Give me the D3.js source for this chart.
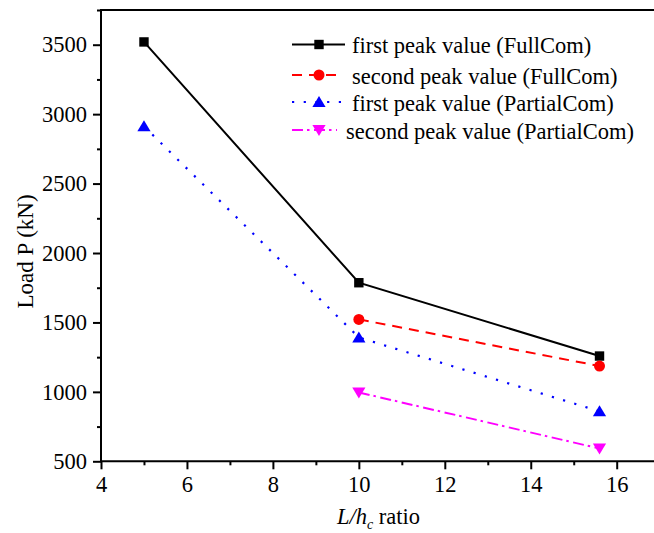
<!DOCTYPE html>
<html><head><meta charset="utf-8">
<script src="https://cdn.jsdelivr.net/npm/d3@7"></script>
<style>
html,body{margin:0;padding:0;background:#fff;}
svg{display:block;}
</style></head>
<body>
<svg id="chart" width="654" height="533" font-family="Liberation Serif"></svg>
<script>
// ---- data ----
const seriesNames = ["first peak value (FullCom)","second peak value (FullCom)","first peak value (PartialCom)","second peak value (PartialCom)"];
const firstFullX = [5, 10, 15.6];
const firstFullY = [3520, 1786, 1258];
const secondFullX = [10, 15.6];
const secondFullY = [1522, 1186];
const firstPartX = [5, 10, 15.6];
const firstPartY = [2912, 1392, 860];
const secondPartX = [10, 15.6];
const secondPartY = [996, 592];
const xMajorTicks = [4, 6, 8, 10, 12, 14, 16];
const xMinorTicks = [5, 7, 9, 11, 13, 15, 17];
const yMajorTicks = [500, 1000, 1500, 2000, 2500, 3000, 3500];
const yMinorTicks = [750, 1250, 1750, 2250, 2750, 3250, 3750];

const FONT = "Liberation Serif";
const svg = d3.select("#chart");
const x = d3.scaleLinear().domain([4, 16]).range([101, 616.7]);
const y = d3.scaleLinear().domain([500, 3750]).range([461.3, 10]);

const styles = [
  {color:"#000000", dash:null, width:2, marker:"square"},
  {color:"#ff0000", dash:"10,7", width:2, marker:"circle"},
  {color:"#0000ff", dash:"2.2,9.5", width:2.2, marker:"triangle"},
  {color:"#ff00ff", dash:"11,4,2.5,4.5", width:2, marker:"triangleDown"}
];
const series = [
  firstFullX.map((v,i)=>[v, firstFullY[i]]),
  secondFullX.map((v,i)=>[v, secondFullY[i]]),
  firstPartX.map((v,i)=>[v, firstPartY[i]]),
  secondPartX.map((v,i)=>[v, secondPartY[i]])
];

function marker(g, type, cx, cy, color){
  if(type==="square"){
    g.append("rect").attr("x",cx-4.7).attr("y",cy-4.7).attr("width",9.4).attr("height",9.4).attr("fill",color);
  } else if(type==="circle"){
    g.append("circle").attr("cx",cx).attr("cy",cy).attr("r",5.5).attr("fill",color);
  } else if(type==="triangle"){
    g.append("path").attr("d",`M${cx},${cy-6} L${cx+6.6},${cy+5} L${cx-6.6},${cy+5} Z`).attr("fill",color);
  } else {
    g.append("path").attr("d",`M${cx},${cy+6} L${cx+6.6},${cy-5} L${cx-6.6},${cy-5} Z`).attr("fill",color);
  }
}

// ---- axes ----
const ax = svg.append("g");
const xAxisMajor = d3.axisBottom(x).tickValues(xMajorTicks).tickSize(8).tickPadding(7).tickFormat(d3.format("d"));
const xAxisMinor = d3.axisBottom(x).tickValues(xMinorTicks).tickSize(4).tickFormat("");
const yAxisMajor = d3.axisLeft(y).tickValues(yMajorTicks).tickSize(8).tickPadding(6).tickFormat(d3.format("d"));
const yAxisMinor = d3.axisLeft(y).tickValues(yMinorTicks).tickSize(4).tickFormat("");

ax.append("g").attr("transform",`translate(0,${y(500)})`).call(xAxisMajor);
ax.append("g").attr("transform",`translate(0,${y(500)})`).call(xAxisMinor);
ax.append("g").attr("transform",`translate(${x(4)},0)`).call(yAxisMajor);
ax.append("g").attr("transform",`translate(${x(4)},0)`).call(yAxisMinor);
ax.selectAll("g").attr("font-family",FONT);
ax.selectAll(".domain").remove();
ax.selectAll(".tick line").attr("stroke","#000").attr("stroke-width",2);
ax.selectAll(".tick text").attr("font-size",22.5).attr("font-family",FONT).attr("fill","#000");

// frame lines
ax.append("line").attr("x1",x(4)).attr("x2",x(18)).attr("y1",y(500)).attr("y2",y(500)).attr("stroke","#000").attr("stroke-width",2);
ax.append("line").attr("x1",x(4)).attr("x2",x(18)).attr("y1",y(3750)).attr("y2",y(3750)).attr("stroke","#000").attr("stroke-width",2);
ax.append("line").attr("x1",x(4)).attr("x2",x(4)).attr("y1",y(3750)-1).attr("y2",y(500)+1).attr("stroke","#000").attr("stroke-width",2);

// axis titles
svg.append("text").attr("transform",`translate(33,251.5) rotate(-90)`).attr("text-anchor","middle")
  .attr("font-family",FONT).attr("font-size",23).text("Load P (kN)");
const xt = svg.append("text").attr("x",337).attr("y",524).attr("text-anchor","start").attr("font-size",22.5).attr("font-family",FONT);
xt.append("tspan").attr("font-style","italic").text("L/h");
xt.append("tspan").attr("font-style","italic").attr("font-size",14).attr("dy",5).text("c");
xt.append("tspan").attr("dy",-5).text(" ratio");

// ---- series ----
const line = d3.line().x(d=>x(d[0])).y(d=>y(d[1]));
const plot = svg.append("g");
series.forEach((s,i)=>{
  const st = styles[i];
  plot.append("path").datum(s).attr("d",line).attr("fill","none").attr("stroke",st.color)
    .attr("stroke-width",st.width).attr("stroke-dasharray",st.dash);
});
series.forEach((s,i)=>{
  s.forEach(d=>marker(plot, styles[i].marker, x(d[0]), y(d[1]), styles[i].color));
});

// ---- legend ----
const lg = svg.append("g");
const rowY = [44.5, 75, 102, 130];
const lineEnd = [345, 341, 341, 337];
const textX = [352, 352, 352, 346];
seriesNames.forEach((name,i)=>{
  const st = styles[i];
  lg.append("line").attr("x1",292).attr("x2",lineEnd[i]).attr("y1",rowY[i]).attr("y2",rowY[i])
    .attr("stroke",st.color).attr("stroke-width",st.width).attr("stroke-dasharray",st.dash);
  marker(lg, st.marker, 319, rowY[i], st.color);
  lg.append("text").attr("x",textX[i]).attr("y",rowY[i]+8.5).attr("font-family",FONT).attr("font-size",22.5).text(name);
});
</script>
</body></html>
